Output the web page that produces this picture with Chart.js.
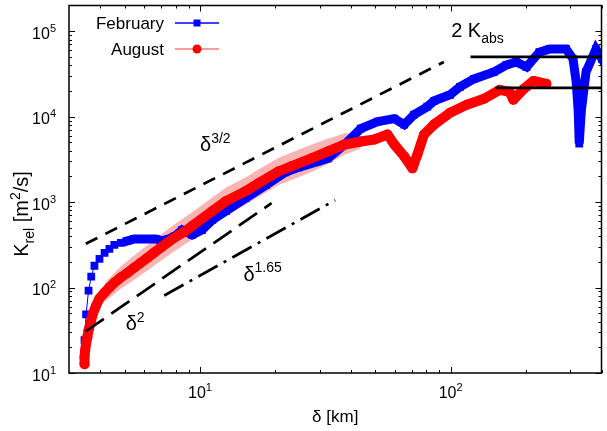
<!DOCTYPE html>
<html>
<head>
<meta charset="utf-8">
<script src="https://cdn.jsdelivr.net/npm/chart.js@4.4.1/dist/chart.umd.min.js"></script>
<style>
	html, body { margin: 0; padding: 0; background: #fff; }
	#wrap { width: 607px; height: 431px; }
</style>
</head>
<body>
<div id="wrap"><canvas id="chart" width="607" height="431"></canvas></div>
<script>
// February (blue squares)
const febX = [3.46, 3.51, 3.59, 3.68, 3.79, 3.97, 4.16, 4.35, 4.55, 4.83, 5.14, 5.46, 5.89, 6.26, 6.65, 7.07,
	7.52, 7.96, 8.49, 9.30, 10.2, 11.2, 12.7, 15.2, 18.3, 21.9, 24.7, 29.6, 32.4, 37.8, 43.8, 51.2, 59.6,
	65.3, 71.5, 80.7, 86.0, 99.5, 109, 124, 149, 167, 183, 201, 226, 248, 289, 308, 317, 323, 326, 332,
	347, 380, 402];
const febY = [24.2, 48.5, 92.3, 134, 180, 217, 255, 284, 316, 334, 352, 371, 371, 371, 371, 352,
	371, 402, 473, 413, 473, 618, 786, 1113, 1576, 2233, 2553, 2998, 3248, 4725, 7252, 8746, 9478,
	8072, 10550, 13070, 15350, 18030, 22330, 27670, 33370, 40240, 43600, 38140, 57000, 61770, 61770, 47250, 25530, 11430, 4853, 11430,
	33370, 61770, 47250];

// August (red circles)
const augX = [3.46, 3.46, 3.48, 3.51, 3.55, 3.59, 3.66, 3.74, 3.85, 3.97, 4.16, 4.35, 4.55, 4.83, 5.14, 5.46,
	5.80, 6.17, 6.55, 6.96, 7.40, 7.87, 8.64, 9.30, 11.2, 12.7, 15.2, 17.1, 20.6, 23.1, 27.8, 32.4, 37.8,
	43.8, 49.6, 56.0, 59.6, 65.3, 70.4, 73.7, 78.3, 85.8, 99.5, 116, 136, 157, 172, 178, 196, 214, 241];
const augY = [12.7, 15.4, 18.5, 22.3, 26.2, 31.6, 39.2, 49.9, 61.8, 74.5, 87.5, 100, 114, 131, 149, 171,
	195, 223, 255, 292, 334, 381, 448, 526, 786, 1027, 1343, 1663, 2294, 2622, 3248, 3917, 4725,
	5121, 5402, 6177, 4725, 3427, 2485, 3614, 6177, 8072, 11130, 13790, 16190, 20610, 19540, 15760, 21170, 26220, 24200];

// August spread band
const bandX = [4.16, 4.83, 5.46, 6.17, 6.96, 7.87, 9.30, 11.2, 12.7, 15.2, 17.1, 20.6, 23.1, 27.8, 32.4, 37.8, 43.8];
const bandLo = [68, 97, 123, 158, 205, 265, 365, 545, 710, 930, 1150, 1590, 1820, 2250, 2800, 3600, 4200];
const bandHi = [112, 177, 238, 315, 415, 545, 760, 1130, 1480, 1940, 2400, 3300, 3780, 4680, 5500, 6400, 6300];

// guide lines
const slope32X = [3.5, 94], slope32Y = [325, 43700];
const slope2X = [3.5, 19.3], slope2Y = [30.8, 973];
const slope165X = [7.2, 34.6], slope165Y = [80.7, 1055];
const kabsFebX = [120, 400], kabsFebY = [50000, 50000];
const kabsAugX = [151, 400], kabsAugY = [21700, 21700];

// axes
const xMajor = [10, 100];
const xMajorLabels = ['10^{1}', '10^{2}'];
const xMinor = [4, 5, 6, 7, 8, 9, 20, 30, 40, 50, 60, 70, 80, 90, 200, 300, 400];
const yMajor = [10, 100, 1000, 10000, 100000];
const yMajorLabels = ['10^{1}', '10^{2}', '10^{3}', '10^{4}', '10^{5}'];
const yMinor = [20, 30, 40, 50, 60, 70, 80, 90, 200, 300, 400, 500, 600, 700, 800, 900,
	2000, 3000, 4000, 5000, 6000, 7000, 8000, 9000, 20000, 30000, 40000, 50000, 60000, 70000, 80000, 90000];

// annotations: [text, x, y (baseline)]
const notes = [
	['δ^{3/2}', 10, 3917],
	['δ^{1.65}', 14.9, 120],
	['δ^{2}', 5.05, 31.6],
	['2 K_{abs}', 100.5, 85000]
];

const FONT = '"Liberation Sans", Arial, Helvetica, sans-serif';
const BLUE = '#0000ff', RED = '#ff0000', PINK = '#f9b4b4', AUG_LEGEND_LINE = '#ff7a7a';

const pts = (xs, ys) => xs.map((v, i) => ({ x: v, y: ys[i] }));

function parseRich(s) {
	const parts = [];
	let buf = '', i = 0;
	while (i < s.length) {
		const c = s[i];
		if ((c === '^' || c === '_') && s[i + 1] === '{') {
			if (buf) parts.push({ t: buf, k: 0 });
			buf = '';
			const end = s.indexOf('}', i);
			parts.push({ t: s.slice(i + 2, end), k: c === '^' ? 1 : -1 });
			i = end + 1;
		} else { buf += c; i++; }
	}
	if (buf) parts.push({ t: buf, k: 0 });
	return parts;
}

function drawRich(ctx, s, x, y, size, align) {
	const parts = parseRich(s);
	const fontFor = k => `${k ? Math.round(size * 0.7) : size}px ${FONT}`;
	let w = 0;
	for (const p of parts) {
		ctx.font = fontFor(p.k);
		p.w = ctx.measureText(p.t).width;
		w += p.w;
	}
	let cx = align === 'center' ? x - w / 2 : align === 'right' ? x - w : x;
	ctx.textAlign = 'left';
	ctx.textBaseline = 'alphabetic';
	for (const p of parts) {
		ctx.font = fontFor(p.k);
		const dy = p.k === 1 ? -size * 0.42 : p.k === -1 ? size * 0.28 : 0;
		ctx.fillText(p.t, cx, y + dy);
		cx += p.w;
	}
}

const decor = {
	id: 'decor',
	afterDraw(chart) {
		const { ctx, chartArea: a, scales: { x, y } } = chart;
		ctx.save();
		ctx.strokeStyle = '#000';
		ctx.fillStyle = '#000';

		// ticks, inside, mirrored
		ctx.lineWidth = 1;
		ctx.beginPath();
		const tx = (v, len) => {
			const p = Math.round(x.getPixelForValue(v)) + 0.5;
			ctx.moveTo(p, a.bottom); ctx.lineTo(p, a.bottom - len);
			ctx.moveTo(p, a.top); ctx.lineTo(p, a.top + len);
		};
		const ty = (v, len) => {
			const p = Math.round(y.getPixelForValue(v)) + 0.5;
			ctx.moveTo(a.left, p); ctx.lineTo(a.left + len, p);
			ctx.moveTo(a.right, p); ctx.lineTo(a.right - len, p);
		};
		xMajor.forEach(v => tx(v, 6));
		xMinor.forEach(v => tx(v, 3));
		yMajor.forEach(v => ty(v, 6));
		yMinor.forEach(v => ty(v, 3));
		ctx.stroke();

		ctx.lineWidth = 1.5;
		ctx.strokeRect(a.left, a.top, a.right - a.left, a.bottom - a.top);

		// tick labels
		xMajor.forEach((v, i) => drawRich(ctx, xMajorLabels[i], x.getPixelForValue(v), a.bottom + 25, 16, 'center'));
		yMajor.forEach((v, i) => drawRich(ctx, yMajorLabels[i], a.left - 13, y.getPixelForValue(v) + 7.5, 16, 'right'));

		// axis titles
		drawRich(ctx, 'δ [km]', (a.left + a.right) / 2, 422, 17, 'center');
		ctx.save();
		ctx.translate(28, 214);
		ctx.rotate(-Math.PI / 2);
		drawRich(ctx, 'K_{rel} [m^{2}/s]', 0, 0, 20, 'center');
		ctx.restore();

		// annotations
		for (const [t, vx, vy] of notes) {
			drawRich(ctx, t, x.getPixelForValue(vx), y.getPixelForValue(vy), 20, 'left');
		}

		// legend
		const rows = [
			{ ds: chart.data.datasets.find(d => d.label === 'February'), line: BLUE, yl: 23, yt: 28.5 },
			{ ds: chart.data.datasets.find(d => d.label === 'August'), line: AUG_LEGEND_LINE, yl: 49, yt: 54.5 }
		];
		for (const r of rows) {
			ctx.fillStyle = '#000';
			drawRich(ctx, r.ds.label, 164, r.yt, 17, 'right');
			ctx.strokeStyle = r.line;
			ctx.lineWidth = 1.5;
			ctx.beginPath();
			ctx.moveTo(175, r.yl); ctx.lineTo(219, r.yl);
			ctx.stroke();
			ctx.fillStyle = r.ds.pointBackgroundColor;
			if (r.ds.pointStyle === 'rect') {
				ctx.fillRect(197 - 3.5, r.yl - 3.5, 7, 7);
			} else {
				ctx.beginPath();
				ctx.arc(197, r.yl, 4.5, 0, Math.PI * 2);
				ctx.fill();
			}
		}
		ctx.restore();
	}
};

const guide = (label, xs, ys, dash) => ({
	label, data: pts(xs, ys), borderColor: '#000', borderWidth: 2.7, borderDash: dash,
	borderCapStyle: 'butt', pointRadius: 0, order: 0, clip: 0
});

new Chart(document.getElementById('chart'), {
	type: 'line',
	data: {
		datasets: [
			guide('slope32', slope32X, slope32Y, [13, 9]),
			guide('slope2', slope2X, slope2Y, [22, 9]),
			guide('slope165', slope165X, slope165Y, [22, 7, 3, 7]),
			guide('kabsFeb', kabsFebX, kabsFebY, []),
			guide('kabsAug', kabsAugX, kabsAugY, []),
			{
				label: 'August', data: pts(augX, augY), borderColor: RED, borderWidth: 10,
				borderJoinStyle: 'round', borderCapStyle: 'round',
				pointStyle: 'circle', pointRadius: 5, pointBackgroundColor: RED, pointBorderWidth: 0,
				order: 1, clip: 0
			},
			{
				label: 'February', data: pts(febX, febY), borderColor: BLUE, borderWidth: 1,
				pointStyle: 'rect', pointRadius: 5.5, pointBackgroundColor: BLUE, pointBorderWidth: 0,
				order: 2, clip: 0
			},
			{
				label: 'febBand', data: pts(febX.slice(10), febY.slice(10)), borderColor: BLUE, borderWidth: 9,
				borderJoinStyle: 'miter', borderCapStyle: 'square', pointRadius: 0, order: 2, clip: 0
			},
			{
				label: 'augHi', data: pts(bandX, bandHi), borderWidth: 0, pointRadius: 0,
				backgroundColor: PINK, fill: '+1', order: 3, clip: 0
			},
			{
				label: 'augLo', data: pts(bandX, bandLo), borderWidth: 0, pointRadius: 0,
				fill: false, order: 3, clip: 0
			}
		]
	},
	options: {
		responsive: false,
		animation: false,
		events: [],
		devicePixelRatio: 1,
		layout: { padding: { top: 3, right: 1, left: 0, bottom: 0 } },
		plugins: { legend: { display: false }, tooltip: { enabled: false } },
		scales: {
			x: {
				type: 'logarithmic', min: 3, max: 400,
				ticks: { display: false }, grid: { display: false }, border: { display: false },
				afterFit: s => { s.height = 58; }
			},
			y: {
				type: 'logarithmic', min: 10, max: 200000,
				ticks: { display: false }, grid: { display: false }, border: { display: false },
				afterFit: s => { s.width = 69; }
			}
		}
	},
	plugins: [decor]
});
</script>
</body>
</html>
